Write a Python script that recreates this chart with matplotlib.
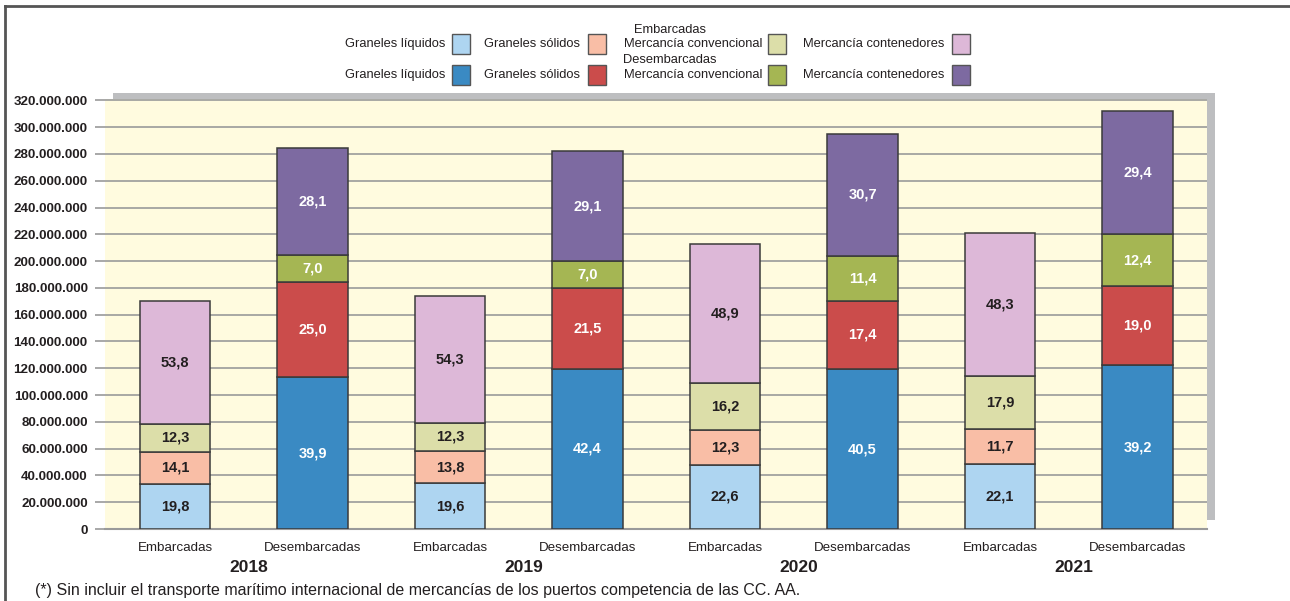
import matplotlib
matplotlib.use("Agg")
import matplotlib.pyplot as plt
from matplotlib.patches import Rectangle
from matplotlib.lines import Line2D
from matplotlib.ticker import FuncFormatter

plt.rcParams["font.family"] = ["Liberation Sans", "DejaVu Sans"]

# ── datos ──
years = ["2018", "2019", "2020", "2021"]
flows = ["Embarcadas", "Desembarcadas"]
categories = ["Graneles líquidos", "Graneles sólidos", "Mercancía convencional", "Mercancía contenedores"]

# totales (toneladas), orden: Emb18, Des18, Emb19, Des19, Emb20, Des20, Emb21, Des21
totals = [170_100_000, 284_200_000, 173_800_000, 282_000_000,
          212_600_000, 294_600_000, 220_800_000, 311_800_000]

# porcentajes por categoría
pct_liquidos = [19.8, 39.9, 19.6, 42.4, 22.6, 40.5, 22.1, 39.2]
pct_solidos = [14.1, 25.0, 13.8, 21.5, 12.3, 17.4, 11.7, 19.0]
pct_convencional = [12.3, 7.0, 12.3, 7.0, 16.2, 11.4, 17.9, 12.4]
pct_contenedores = [53.8, 28.1, 54.3, 29.1, 48.9, 30.7, 48.3, 29.4]

col_emb = ["#aed5f1", "#f9bea6", "#dcdea9", "#ddb8d8"]
col_des = ["#3a8ac3", "#cb4c4b", "#a5b653", "#7d6aa1"]

W, H = 1290, 601
fig = plt.figure(figsize=(W / 100, H / 100), dpi=100)
fig.patch.set_facecolor("white")

def fx(px): return px / W
def fy(py): return 1 - py / H

# sombra gris del área de trazado
fig.patches.append(Rectangle((fx(113), fy(520)), fx(1215) - fx(113), fy(93) - fy(520),
                             transform=fig.transFigure, facecolor="#bdbec0",
                             edgecolor="none", zorder=0))

ax = fig.add_axes([fx(105), fy(529), fx(1207) - fx(105), fy(99) - fy(529)])
ax.set_facecolor("#fffbdf")
ax.set_zorder(1)

pcts = [pct_liquidos, pct_solidos, pct_convencional, pct_contenedores]
xs = list(range(len(totals)))
bottoms = [0.0] * len(totals)
for k, pc in enumerate(pcts):
    for i in xs:
        h = totals[i] * pc[i] / 100
        is_emb = i % 2 == 0
        c = col_emb[k] if is_emb else col_des[k]
        ax.bar(i, h, bottom=bottoms[i], width=0.51, color=c,
               edgecolor="#3a3a3a", linewidth=1.1, zorder=3)
        ax.text(i, bottoms[i] + h / 2, f"{pc[i]:.1f}".replace(".", ","),
                ha="center", va="center", fontsize=10.5, fontweight="bold",
                color="#231f20" if is_emb else "white", zorder=4)
        bottoms[i] += h

ax.set_xlim(-0.509, 7.505)
ax.set_ylim(0, 321_000_000)
ax.set_yticks(range(0, 320_000_001, 20_000_000))
ax.yaxis.set_major_formatter(FuncFormatter(lambda v, p: f"{int(v):,}".replace(",", ".")))
ax.tick_params(axis="y", length=7.5, color="#9a9a9a", width=1.2, pad=5,
               labelsize=9.6, labelcolor="#231f20")
for lbl in ax.get_yticklabels():
    lbl.set_fontweight("bold")
ax.grid(axis="y", color="#9a9a9a", linewidth=1.2, zorder=1)
ax.set_axisbelow(True)
ax.set_xticks([])
for s in ["left", "right", "top"]:
    ax.spines[s].set_visible(False)
ax.spines["bottom"].set_color("#9a9a9a")
ax.spines["bottom"].set_linewidth(1.5)

# etiquetas del eje x
for i in xs:
    fig.text(fx(175 + 137.5 * i), fy(548), flows[i % 2], ha="center", va="center",
             fontsize=9.6, color="#231f20")
for j, y in enumerate(years):
    fig.text(fx(249 + 275 * j), fy(568), y, ha="center", va="center",
             fontsize=12.5, fontweight="bold", color="#231f20")

fig.text(fx(35), fy(590), "(*) Sin incluir el transporte marítimo internacional de mercancías "
         "de los puertos competencia de las CC. AA.", ha="left", va="center",
         fontsize=11.5, color="#231f20")

# leyenda
text_right = [445, 580, 762, 944]
box_left = [452, 588, 768, 952]
for row, (title, cols, ty, ey) in enumerate([("Embarcadas", col_emb, 30, 44),
                                              ("Desembarcadas", col_des, 60, 75)]):
    fig.text(fx(670), fy(ty), title, ha="center", va="center", fontsize=9.3,
             color="#231f20")
    for k in range(4):
        fig.text(fx(text_right[k]), fy(ey), categories[k], ha="right", va="center",
                 fontsize=9.3, color="#231f20")
        fig.patches.append(Rectangle((fx(box_left[k]), fy(ey + 10)), fx(18), 20 / H,
                                     transform=fig.transFigure, facecolor=cols[k],
                                     edgecolor="#555555", linewidth=1))

# marco
fig.add_artist(Line2D([fx(5), 1], [fy(6), fy(6)], transform=fig.transFigure,
                      color="#555555", linewidth=2))
fig.add_artist(Line2D([fx(5), fx(5)], [0, fy(6)], transform=fig.transFigure,
                      color="#555555", linewidth=2))

fig.savefig("out.png", dpi=100)
